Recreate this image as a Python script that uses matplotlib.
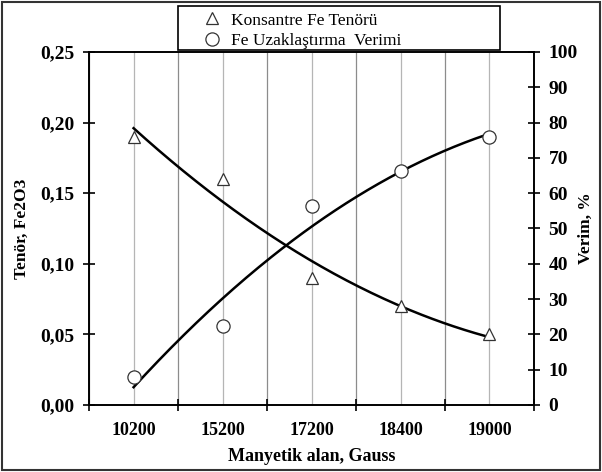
import numpy as np
import matplotlib
matplotlib.use('Agg')
import matplotlib.pyplot as plt
from matplotlib.patches import Rectangle
from matplotlib.ticker import FixedLocator, FuncFormatter

categories = ['10200', '15200', '17200', '18400', '19000']
tenor = [0.19, 0.16, 0.09, 0.07, 0.05]       # Konsantre Fe Tenörü
verim = [8.0, 22.3, 56.3, 66.2, 75.8]        # Fe Uzaklaştırma Verimi, %

plt.rcParams['font.family'] = ['Liberation Serif', 'DejaVu Serif']


def main():
    x = np.arange(1, len(categories) + 1)

    fig = plt.figure(figsize=(6.02, 4.72), dpi=100)
    ax = fig.add_axes([0.148, 0.142, 0.739, 0.748])
    ax2 = ax.twinx()

    # vertical grid lines at categories and between them
    ax.set_xlim(0.5, len(categories) + 0.5)
    ax.xaxis.set_major_locator(FixedLocator(np.arange(0.5, len(categories) + 1, 1)))
    ax.xaxis.set_minor_locator(FixedLocator(x))
    ax.set_xticklabels([''] * (len(categories) + 1))
    ax.set_xticklabels(categories, minor=True)
    ax.tick_params(axis='x', which='major', direction='inout', length=9, width=1.2)
    ax.tick_params(axis='x', which='minor', length=0, pad=12)
    ax.grid(axis='x', which='major', color='#8c8c8c', lw=0.9)
    ax.grid(axis='x', which='minor', color='#b5b5b5', lw=0.9)
    ax.set_axisbelow(True)

    # quadratic trend lines
    xs = np.linspace(1, len(categories), 200)
    pt = np.polyfit(x, tenor, 2)
    pv = np.polyfit(x, verim, 2)
    ax.plot(xs, np.polyval(pt, xs), color='black', lw=1.8, zorder=3)
    ax2.plot(xs, np.polyval(pv, xs), color='black', lw=1.8, zorder=3)

    h1, = ax.plot(x, tenor, linestyle='none', marker='^', ms=9, mfc='white',
                  mec='#333333', mew=0.9, zorder=4, label='Konsantre Fe Tenörü')
    h2, = ax2.plot(x, verim, linestyle='none', marker='o', ms=9.5, mfc='white',
                   mec='#333333', mew=0.9, zorder=4, label='Fe Uzaklaştırma  Verimi')

    ax.set_ylim(0, 0.25)
    ax.set_yticks(np.arange(0, 0.26, 0.05))
    ax.yaxis.set_major_formatter(FuncFormatter(lambda v, p: ('%.2f' % v).replace('.', ',')))
    ax2.set_ylim(0, 100)
    ax2.set_yticks(np.arange(0, 101, 10))
    ax.tick_params(axis='y', direction='inout', length=9, width=1.2, pad=6)
    ax2.tick_params(axis='y', direction='inout', length=9, width=1.2, pad=6)

    for lbl in ax.get_yticklabels() + ax2.get_yticklabels():
        lbl.set_fontsize(14)
        lbl.set_fontweight('bold')
    for lbl in ax.get_xticklabels(minor=True):
        lbl.set_fontsize(13)
        lbl.set_fontweight('bold')

    for a in (ax, ax2):
        for s in a.spines.values():
            s.set_linewidth(1.2)

    ax.set_xlabel('Manyetik alan, Gauss', fontsize=13, fontweight='bold')
    ax.xaxis.set_label_coords(0.5, -0.122)
    ax.set_ylabel('Tenör, Fe2O3', fontsize=12.5, fontweight='bold')
    ax.yaxis.set_label_coords(-0.133, 0.5)
    ax2.set_ylabel('Verim, %', fontsize=12.5, fontweight='bold')
    ax2.yaxis.set_label_coords(1.099, 0.5)

    # legend box above the plot
    fig.patches.append(Rectangle((178 / 602, 1 - 50 / 472), 322 / 602, 44 / 472,
                                 transform=fig.transFigure, fill=False,
                                 edgecolor='black', lw=1.2))
    fig.legend(handles=[h1, h2], loc='upper left', bbox_to_anchor=(191 / 602, 1 - 2 / 472),
               frameon=False, fontsize=12.5, handlelength=1.2, handletextpad=0.5,
               labelspacing=0.25, borderpad=0.1)

    # outer border
    fig.patches.append(Rectangle((0.004, 0.005), 0.992, 0.99, transform=fig.transFigure,
                                 fill=False, edgecolor='#333333', lw=1.5))

    fig.savefig('out.png', dpi=100)


if __name__ == "__main__":
    main()
